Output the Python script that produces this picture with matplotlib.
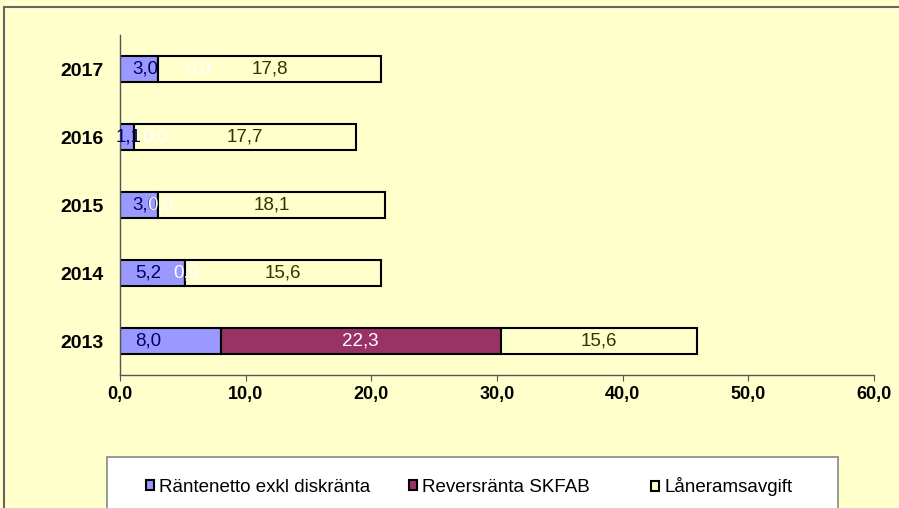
import matplotlib
matplotlib.use("Agg")
import matplotlib.pyplot as plt
from matplotlib.patches import Rectangle
from matplotlib.lines import Line2D
import numpy as np

years = ["2013", "2014", "2015", "2016", "2017"]
series_names = ["Räntenetto exkl diskränta", "Reversränta SKFAB", "Låneramsavgift"]
rantenetto = [8.0, 5.2, 3.0, 1.1, 3.0]
reversranta = [22.3, 0.0, 0.0, 0.0, 0.0]
laneram = [15.6, 15.6, 18.1, 17.7, 17.8]
xticks = [0, 10, 20, 30, 40, 50, 60]

colors = ["#9999FF", "#993366", "#FFFFCC"]
label_colors = ["#000066", "white", "#333300"]
# horizontal nudges (in pixels) of data labels, as placed in the original
label_nudge = [
    [-22, -4, 6, 2, 6],
    [0, 1, 3, 21, 41],
    [0, 0, 0, 0, 0],
]
bg = "#FFFFCC"

plt.rcParams['font.family'] = ['Liberation Sans', 'DejaVu Sans']

fig = plt.figure(figsize=(8.99, 5.08), dpi=100, facecolor=bg)
ax = fig.add_axes([120/899, 1-375/508, (874-120)/899, (375-35)/508])
ax.set_facecolor(bg)

y = np.arange(len(years))
left = np.zeros(len(years))
bars = []
for si, (vals, col, lc, name) in enumerate(zip([rantenetto, reversranta, laneram], colors, label_colors, series_names)):
    vals = np.array(vals)
    b = ax.barh(y, vals, left=left, height=0.38, color=col, edgecolor="black", linewidth=1.5, label=name)
    bars.append(b)
    for yi, (l, v) in enumerate(zip(left, vals)):
        ax.annotate(f"{v:.1f}".replace(".", ","), xy=(l + v/2, yi),
                    xytext=(label_nudge[si][yi] * 0.72, 0), textcoords="offset points",
                    ha="center", va="center", color=lc, fontsize=13.5)
    left = left + vals

ax.set_xlim(0, 60)
ax.set_ylim(-0.5, len(years) - 0.5)
ax.set_xticks(xticks)
ax.set_xticklabels([f"{t:.1f}".replace(".", ",") for t in xticks], fontweight="bold", fontsize=13)
ax.set_yticks(y)
ax.set_yticklabels(years, fontweight="bold", fontsize=14)
for s in ["top", "right"]:
    ax.spines[s].set_visible(False)
for s in ["left", "bottom"]:
    ax.spines[s].set_color("#555555")
    ax.spines[s].set_linewidth(1.0)
ax.tick_params(axis="x", direction="out", length=4, color="#555555", pad=4)
ax.tick_params(axis="y", length=0, pad=12)

# figure border (top and left)
fig.lines.append(Line2D([4/899, 1], [1-7/508, 1-7/508], transform=fig.transFigure, color="#666666", linewidth=1.5))
fig.lines.append(Line2D([4/899, 4/899], [0, 1-7/508], transform=fig.transFigure, color="#666666", linewidth=1.5))
# legend box
fig.patches.append(Rectangle((107/899, -0.02), (838-107)/899, (508-457)/508 + 0.02, transform=fig.transFigure,
                             facecolor="white", edgecolor="#888888", linewidth=1.2, zorder=1))
legend_x = [146, 409, 651]
for b, name, lx in zip(bars, series_names, legend_x):
    leg = fig.legend(handles=[b], labels=[name], loc="center left", bbox_to_anchor=(lx/899, 1-487/508),
                     frameon=False, fontsize=13.5, handlelength=0.45, handleheight=0.45,
                     handletextpad=0.25, borderpad=0, borderaxespad=0)
    leg.set_zorder(2)

fig.savefig("out.png", dpi=100, facecolor=bg)
